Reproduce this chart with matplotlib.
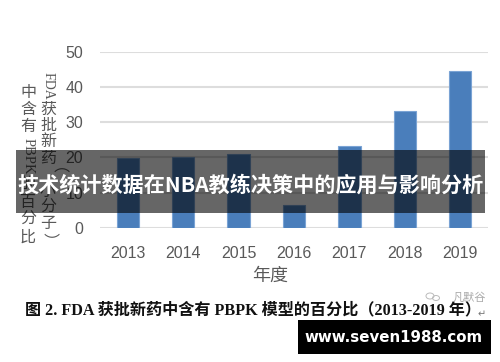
import matplotlib
matplotlib.use("Agg")
import matplotlib.pyplot as plt
from matplotlib.patches import Rectangle, Ellipse

years = ["2013", "2014", "2015", "2016", "2017", "2018", "2019"]
percent = [19.9, 20.0, 21.0, 6.5, 23.3, 33.3, 44.7]
y_ticks = [0, 10, 20, 30, 40, 50]

ylabel_col1 = list("获批新药（小分子）")
ylabel_col2 = list("中含有") + ["PBPK"] + list("的百分比")
title_text = "技术统计数据在NBA教练决策中的应用与影响分析"
caption = "图 2. FDA 获批新药中含有 PBPK 模型的百分比（2013-2019 年）"
site_text = "www.seven1988.com"

CJK = "Noto Sans CJK SC"
GREY = "#595959"
W, H = 500, 362

fig = plt.figure(figsize=(W / 100, H / 100), dpi=100)

# --- bar chart ---
ax = fig.add_axes([100 / W, 1 - 227.7 / H, 388 / W, 175.7 / H])
ax.bar(years, percent, width=0.4, color="#4a7ebb", edgecolor="#7aa3d4", linewidth=0.8, zorder=3)
ax.set_xlim(-0.5, 6.5)
ax.set_ylim(0, 50)
ax.set_yticks(y_ticks)
ax.grid(axis="y", color="#dddddd", linewidth=1.5, zorder=0)
ax.tick_params(length=0, labelsize=11.5, labelcolor=GREY)
ax.tick_params(axis="y", pad=12)
ax.tick_params(axis="x", pad=13)
for lab in ax.get_xticklabels() + ax.get_yticklabels():
    lab.set_family("Liberation Sans")
for s in ax.spines.values():
    s.set_visible(False)

# --- overlay in pixel coordinates ---
ov = fig.add_axes([0, 0, 1, 1], zorder=5)
ov.set_xlim(0, W)
ov.set_ylim(H, 0)
ov.axis("off")

# stacked y label, two columns
ov.text(48, 72, "FDA", rotation=-90, ha="center", va="top", fontsize=10,
        color=GREY, family="Liberation Serif")
y = 109
for ch in ylabel_col1:
    rot = -90 if ch in "（）" else 0
    ov.text(48, y, ch, rotation=rot, ha="center", va="center", fontsize=11.5, color=GREY, family=CJK)
    y += 16.4
y = 92
for ch in ylabel_col2:
    if ch == "PBPK":
        ov.text(28, y - 7, ch, rotation=-90, ha="center", va="top", fontsize=10.5,
                color=GREY, family="Liberation Serif")
        y += 40
    else:
        ov.text(28, y, ch, ha="center", va="center", fontsize=11.5, color=GREY, family=CJK)
        y += 17.5

ov.text(270, 276, "年度", ha="center", va="center", fontsize=13, color=GREY, family=CJK)

# caption and watermark
ov.text(25, 310, caption, ha="left", va="center", fontsize=11.6, color="#111111",
        family=["Liberation Serif", CJK], fontweight="bold")
ov.text(469, 297, "凡默谷", ha="center", va="center", fontsize=8, color="#aaaaaa", family=CJK)
ov.add_patch(Ellipse((430, 296), 8, 6, fill=False, ec="#bbbbbb", lw=0.7))
ov.add_patch(Ellipse((436, 298), 7, 5, fill=False, ec="#bbbbbb", lw=0.7))
ov.text(482, 314, "↵", ha="center", va="center", fontsize=7, color="#777777", family="DejaVu Sans")

# banner over the chart
ov.add_patch(Rectangle((16, 150), 469, 62.7, color="black", alpha=0.6, lw=0, zorder=6))
ov.text(250.5, 185, title_text, ha="center", va="center", fontsize=15.2, color="white",
        family=CJK, fontweight="bold", zorder=7)

# site box
ov.add_patch(Rectangle((298, 320), 193, 34, color="black", lw=0, zorder=6))
ov.text(394, 337, site_text, ha="center", va="center", fontsize=10.8, color="white",
        family="DejaVu Sans", fontweight="bold", zorder=7)

fig.savefig("out.png", dpi=100)
